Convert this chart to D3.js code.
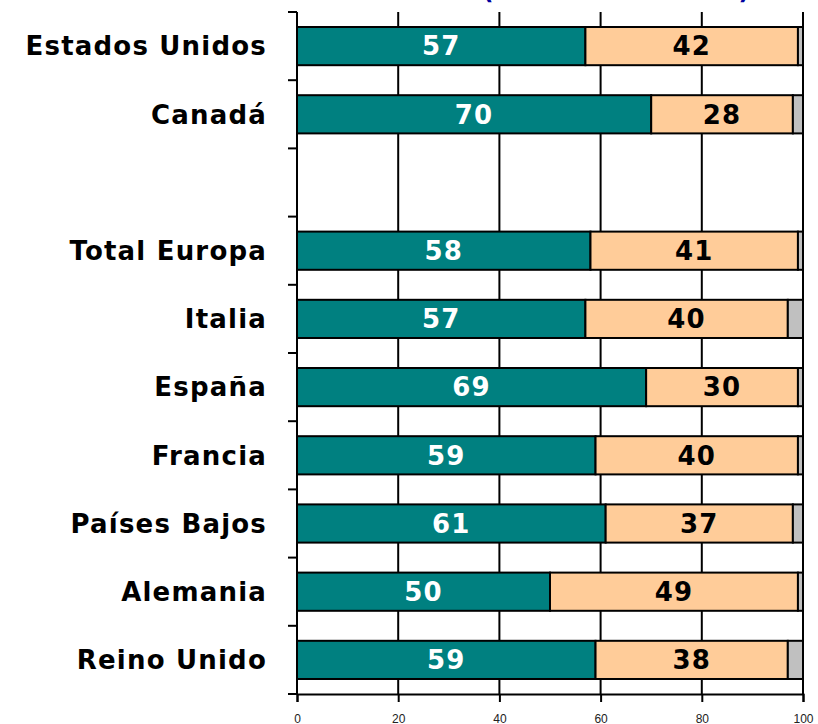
<!DOCTYPE html>
<html>
<head>
<meta charset="utf-8">
<script src="https://cdn.jsdelivr.net/npm/d3@7"></script>
<style>
  body { margin: 0; background: #fff; }
  svg { display: block; }
</style>
</head>
<body>
<svg id="vis" width="818" height="724"></svg>
<script>
// data
var paises = ["Estados Unidos", "Canadá", "", "Total Europa", "Italia", "España", "Francia", "Países Bajos", "Alemania", "Reino Unido"];
var serieA = [57, 70, null, 58, 57, 69, 59, 61, 50, 59];
var serieB = [42, 28, null, 41, 40, 30, 40, 37, 49, 38];
var serieC = [1, 2, null, 1, 3, 1, 1, 2, 1, 3];
var xTicks = [0, 20, 40, 60, 80, 100];
var colores = ["#008080", "#FFCC99", "#C0C0C0"];

var svg = d3.select("#vis");
var margin = {top: 12, right: 15, bottom: 30, left: 297};
var width = 818 - margin.left - margin.right;
var height = 724 - margin.top - margin.bottom;

var x = d3.scaleLinear().domain([0, 100]).range([0, width]);
var y = d3.scaleBand()
    .domain(d3.range(paises.length))
    .range([0, height])
    .paddingInner(0.44)
    .paddingOuter(0.22);

var g = svg.append("g").attr("transform", "translate(" + margin.left + "," + margin.top + ")");

function etiqueta(sel) {
    sel.style("font-family", "DejaVu Sans")
        .style("font-weight", "bold")
        .style("font-size", "26px")
        .style("letter-spacing", "1.2px");
}

// title, mostly cut off at the top
svg.append("text")
    .attr("x", 616)
    .attr("y", -1)
    .attr("text-anchor", "middle")
    .style("font-family", "DejaVu Sans")
    .style("font-weight", "bold")
    .style("font-size", "24px")
    .style("fill", "#0000A0")
    .text("(% de encuestados)");

// gridlines
g.append("g").selectAll("line")
    .data(xTicks.slice(1))
    .enter().append("line")
    .attr("x1", function(d) { return x(d); })
    .attr("x2", function(d) { return x(d); })
    .attr("y1", 0)
    .attr("y2", height)
    .style("stroke", "#000")
    .style("stroke-width", 2);

// bars
var rows = paises.map(function(p, i) {
    return {i: i, vals: [serieA[i], serieB[i], serieC[i]]};
}).filter(function(r) { return r.vals[0] != null; });

rows.forEach(function(r) {
    var x0 = 0;
    r.vals.forEach(function(v, k) {
        g.append("rect")
            .attr("x", x(x0))
            .attr("y", y(r.i))
            .attr("width", x(x0 + v) - x(x0))
            .attr("height", y.bandwidth())
            .style("fill", colores[k])
            .style("stroke", "#000")
            .style("stroke-width", 2);
        if (k < 2) {
            g.append("text")
                .attr("x", x(x0 + v / 2))
                .attr("y", y(r.i) + y.bandwidth() / 2)
                .attr("dy", "0.36em")
                .attr("text-anchor", "middle")
                .call(etiqueta)
                .style("fill", k == 0 ? "#fff" : "#000")
                .text(v);
        }
        x0 += v;
    });
});

// left axis with ticks at band boundaries
g.append("line")
    .attr("x1", 0).attr("x2", 0)
    .attr("y1", 0).attr("y2", height)
    .style("stroke", "#000").style("stroke-width", 2);

g.append("g").selectAll("line")
    .data(d3.range(paises.length + 1))
    .enter().append("line")
    .attr("x1", -9).attr("x2", 0)
    .attr("y1", function(i) { return i * y.step(); })
    .attr("y2", function(i) { return i * y.step(); })
    .style("stroke", "#000").style("stroke-width", 2);

g.append("g").selectAll("text")
    .data(paises.map(function(p, i) { return {p: p, i: i}; }))
    .enter().append("text")
    .attr("x", -30)
    .attr("y", function(d) { return y(d.i) + y.bandwidth() / 2; })
    .attr("dy", "0.36em")
    .attr("text-anchor", "end")
    .call(etiqueta)
    .style("fill", "#000")
    .text(function(d) { return d.p; });

// bottom axis
var xAxis = g.append("g")
    .attr("transform", "translate(0," + height + ")")
    .call(d3.axisBottom(x).tickValues(xTicks).tickSize(8).tickPadding(12));
xAxis.select(".domain").style("stroke-width", 2);
xAxis.selectAll(".tick line").style("stroke-width", 2);
xAxis.selectAll("text")
    .style("font-family", "Liberation Sans")
    .style("font-size", "12px")
    .style("fill", "#222");
</script>
</body>
</html>
